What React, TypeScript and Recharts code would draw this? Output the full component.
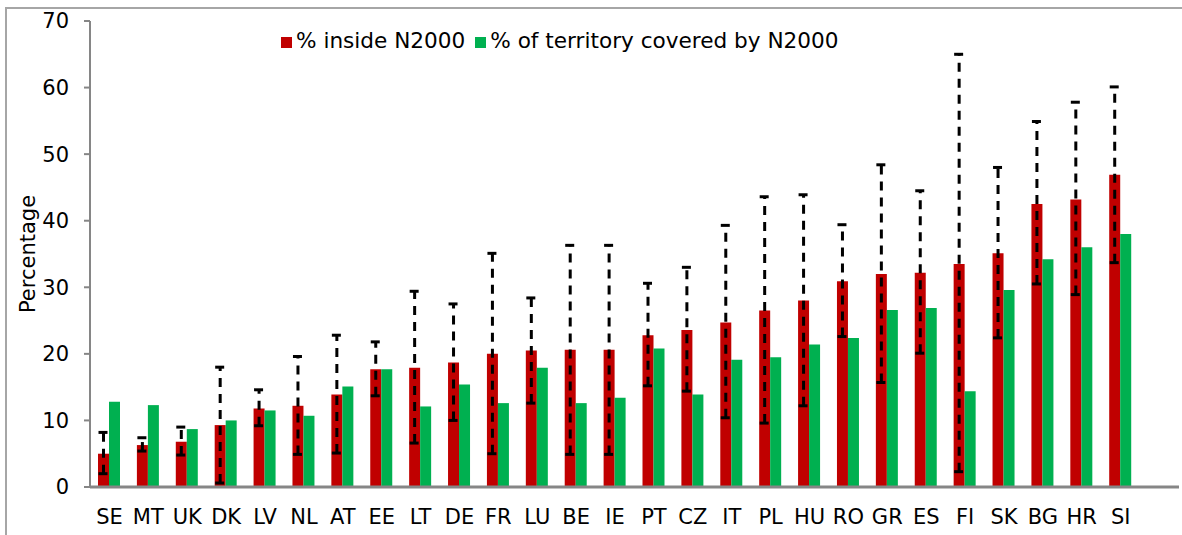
import { BarChart, Bar, XAxis, YAxis, Legend, ErrorBar, Label } from "recharts";

const countries = [
  "SE", "MT", "UK", "DK", "LV", "NL", "AT", "EE", "LT", "DE", "FR", "LU", "BE", "IE",
  "PT", "CZ", "IT", "PL", "HU", "RO", "GR", "ES", "FI", "SK", "BG", "HR", "SI",
];

// % inside N2000 (red) with its range
const inside = [
  5.0, 6.3, 6.8, 9.3, 11.8, 12.2, 13.9, 17.7, 17.9, 18.7, 20.0, 20.5, 20.6, 20.6,
  22.8, 23.6, 24.7, 26.5, 28.0, 30.9, 32.0, 32.2, 33.5, 35.1, 42.5, 43.2, 46.9,
];
const insideLow = [
  2.0, 5.4, 4.8, 0.6, 9.2, 4.9, 5.1, 13.7, 6.6, 10.0, 5.0, 12.6, 4.9, 4.9,
  15.2, 14.4, 10.4, 9.6, 12.2, 22.6, 15.7, 20.1, 2.3, 22.4, 30.5, 28.9, 33.7,
];
const insideHigh = [
  8.2, 7.4, 9.0, 18.0, 14.6, 19.6, 22.8, 21.8, 29.4, 27.5, 35.1, 28.4, 36.3, 36.3,
  30.6, 33.0, 39.3, 43.6, 43.9, 39.4, 48.4, 44.5, 65.0, 48.0, 54.9, 57.8, 60.1,
];

// % of territory covered by N2000 (green)
const territory = [
  12.8, 12.3, 8.7, 10.0, 11.5, 10.7, 15.1, 17.7, 12.1, 15.4, 12.6, 17.9, 12.6, 13.4,
  20.8, 13.9, 19.1, 19.5, 21.4, 22.4, 26.6, 26.9, 14.4, 29.6, 34.2, 36.0, 38.0,
];

const yTicks = [0, 10, 20, 30, 40, 50, 60, 70];

const RED = "#C00000";
const GREEN = "#00B050";
const AXIS = "#868686";
const FONT = "'DejaVu Sans', Verdana, sans-serif";

// ErrorBar wants offsets from the bar value, so turn the range ends into deltas.
// One blank slot at the end leaves the empty stretch of axis on the right.
const rows = [
  ...countries.map((c, i) => ({
    country: c,
    inside: inside[i],
    territory: territory[i],
    range: [inside[i] - insideLow[i], insideHigh[i] - inside[i]],
  })),
  { country: "" },
];

const legendText = (value: string) => <span style={{ color: "#000" }}>{value}</span>;

export default function App() {
  return (
    <div style={{ position: "absolute", left: 0, top: 0, width: 1182, height: 535, background: "#fff", overflow: "hidden" }}>
      <div
        style={{
          position: "absolute", left: 5, top: 7, width: 1300, height: 700,
          borderLeft: "2px solid #a6a6a6", borderTop: "2px solid #a6a6a6",
        }}
      />
      <BarChart
        width={1182}
        height={535}
        data={rows}
        margin={{ top: 21, right: 3, bottom: 0, left: 0 }}
        barSize={11}
        barGap={0}
        style={{ fontFamily: FONT }}
      >
        <XAxis
          dataKey="country"
          interval={0}
          tickLine={false}
          tickSize={0}
          tickMargin={22}
          height={48}
          axisLine={{ stroke: AXIS, strokeWidth: 3 }}
          tick={{ fill: "#000", fontSize: 21, fontFamily: FONT }}
        />
        <YAxis
          width={90}
          domain={[0, 70]}
          ticks={yTicks}
          tickSize={6}
          tickMargin={15}
          axisLine={{ stroke: AXIS, strokeWidth: 2 }}
          tickLine={{ stroke: AXIS, strokeWidth: 2 }}
          tick={{ fill: "#000", fontSize: 21, fontFamily: FONT }}
        >
          <Label
            content={({ viewBox }: any) => {
              const cx = viewBox.x + 28;
              const cy = viewBox.y + viewBox.height / 2;
              return (
                <text
                  x={cx}
                  y={cy}
                  transform={`rotate(-90 ${cx} ${cy})`}
                  textAnchor="middle"
                  dominantBaseline="central"
                  fontSize={21}
                  fontFamily={FONT}
                  fill="#000"
                >
                  Percentage
                </text>
              );
            }}
          />
        </YAxis>
        <Legend
          layout="horizontal"
          verticalAlign="middle"
          align="center"
          iconType="square"
          iconSize={11}
          formatter={legendText}
          wrapperStyle={{ left: 281, top: 28, width: "max-content", fontSize: 21.6, fontFamily: FONT, lineHeight: "26px" }}
        />
        <Bar dataKey="inside" name="% inside N2000" fill={RED} isAnimationActive={false}>
          <ErrorBar
            dataKey="range"
            direction="y"
            width={5}
            stroke="#000"
            strokeWidth={3}
            strokeDasharray="9 7"
            isAnimationActive={false}
          />
        </Bar>
        <Bar dataKey="territory" name="% of territory covered by N2000" fill={GREEN} isAnimationActive={false} />
      </BarChart>
    </div>
  );
}
